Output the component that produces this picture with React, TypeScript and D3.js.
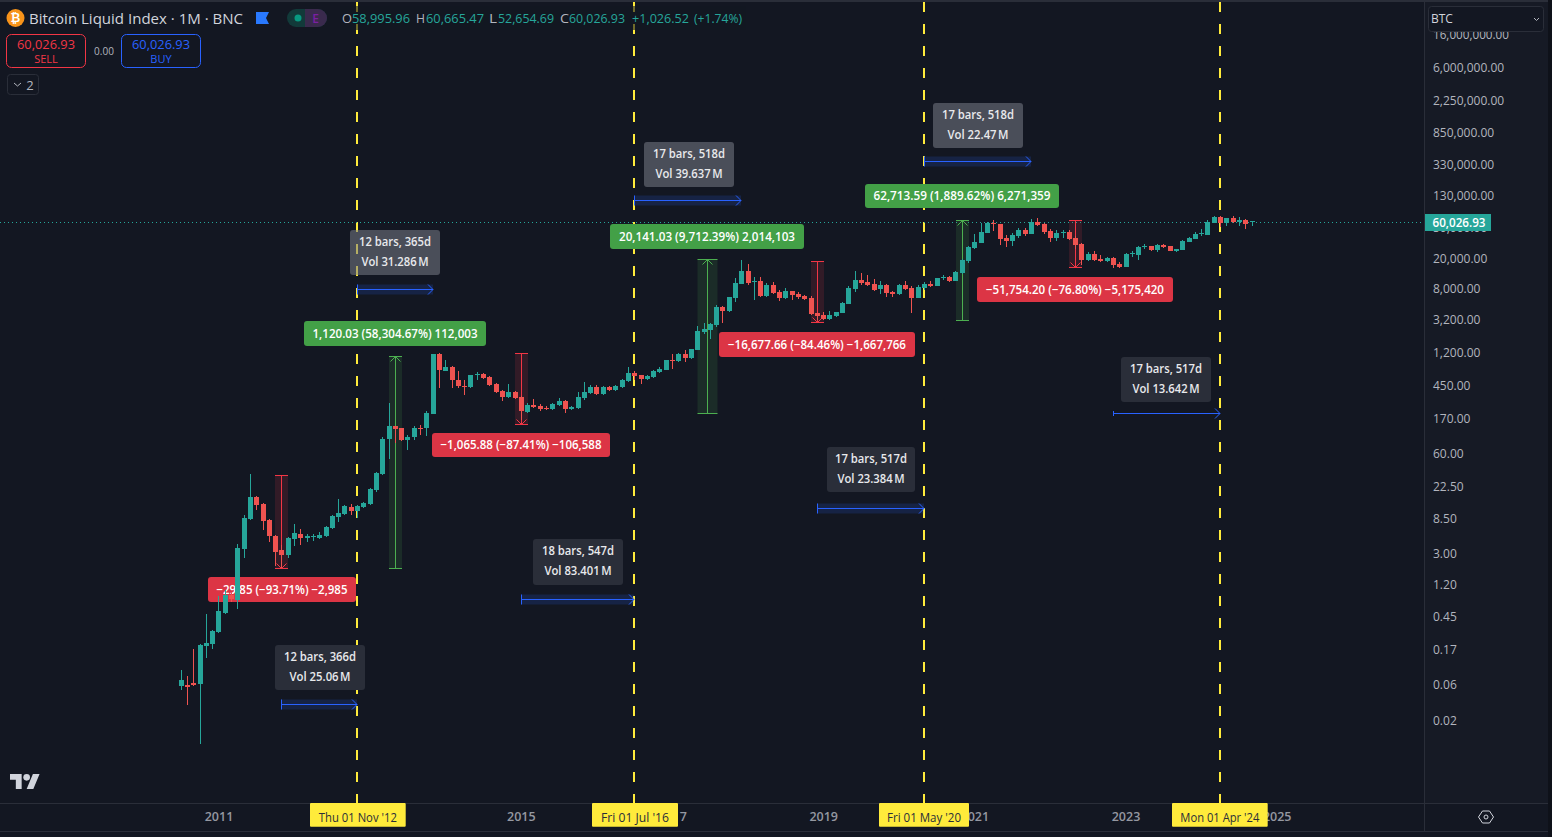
import React from 'react';
import * as d3 from 'd3';

// Monthly candles, Jul 2010 .. Sep 2024
const startYear = 2010;
const startMonth = 6;
const opens = [.055,.0567,.0602,.0584,.182,.193,.276,.488,.838,.721,3.31,8.11,15.7,12.7,7.88,4.88,3.21,2.76,4.46,5.18,4.68,4.76,4.6,4.88,6.21,8.63,9.42,11.6,10.3,11.6,12.7,19.3,31.1,88.9,131,125,86.3,94,125,125,187,1130,679,766,518,433,420,602,621,567,460,373,311,362,311,199,245,238,224,218,245,276,218,224,302,351,420,341,420,384,420,503,639,602,534,567,659,698,957,916,1130,1000,1270,2180,2310,2680,4600,4080,6020,9160,13500,9720,10000,6390,8890,7210,6020,7430,6790,6390,6020,3840,3620,3210,3510,3840,5030,7880,10300,9720,9160,7880,8890,7210,6790,8890,8110,6020,8110,9160,8630,10900,11300,10000,12700,18200,26800,31100,42000,56700,55000,36200,33100,38400,46000,40800,58400,55000,44600,36200,42000,43300,36200,30200,18700,22400,19300,18200,19900,16600,15200,22400,21800,27600,28500,25300,29300,28500,24500,25300,32100,35100,40800,39600,56700,67900,56700,65900,58400,62100,58995.96];
const highs = [.0889,.0743,.166,.193,.474,.293,.811,.97,.916,3.84,9.16,31.1,16.1,13.1,8.11,5.03,3.73,4.74,6.98,6.02,5.18,5.18,5.5,6.59,9.16,14.7,12.3,12.7,12.3,13.5,20.5,33.1,94.2,260,131,125,100,131,135,205,1130,1160,942,788,679,518,602,659,639,584,474,384,460,373,321,260,293,253,238,260,302,285,238,362,488,446,446,433,433,446,534,766,679,602,602,698,766,942,1130,1160,1270,1310,2600,2850,2850,4880,4740,6210,10900,18700,16600,11300,11300,9420,9720,7660,8110,7500,7210,6590,6390,3840,3960,4080,3960,5340,8630,13500,12700,12000,10600,10000,9160,7430,9160,10000,8630,8890,9720,10000,10900,12000,11600,13500,19300,28500,40800,56700,58400,62100,55000,39600,42000,48800,48800,63900,65900,56700,47400,46000,46000,46000,38400,31100,23800,24500,21800,20500,20500,17600,23100,24500,28500,30200,28500,30200,30200,28500,26000,34100,37300,43300,47400,62100,69800,69800,65900,69800,67900,63900,60665.47];
const lows = [.0488,.0311,.055,.0097,.127,.166,.27,.47,.679,.55,2.53,8,10.6,5.84,4.08,1.99,1.87,2.53,3.62,3.73,4.08,4.2,4.46,4.74,6.02,7.43,9.16,9.16,8.38,11.3,12.3,18.2,30.2,48.8,78.8,84,63.9,86,100,98,187,408,679,408,408,331,414,518,534,433,351,276,302,298,157,193,224,205,215,211,241,193,215,221,285,341,336,336,373,379,414,495,518,460,526,558,639,698,721,889,889,985,1270,2050,1760,2530,2850,3960,5340,9160,8890,5670,6290,6210,6790,5500,5840,5670,5840,5760,3620,3110,3150,3150,3450,3840,5030,7210,8890,8630,7430,6790,6210,6210,6590,7760,3840,6020,7660,8500,8630,10300,9720,10000,12500,17100,26000,31100,42000,44600,29300,27600,28500,36200,38400,40800,51800,40800,32100,33100,36200,34100,26000,16100,18200,18400,17600,17600,14700,15000,15200,20500,18700,26000,25000,23800,27200,24500,23800,25300,32100,35100,38400,39600,56700,50300,51800,56700,51800,47400,52654.69];
const closes = [.0659,.0534,.0567,.187,.199,.285,.518,.838,.743,3.41,8.38,15.7,12.3,7.66,4.88,3.02,2.76,4.6,5.34,4.6,4.84,4.95,5.03,6.39,8.89,9.72,12,10.3,12,13.1,19.9,32.1,88.9,131,120,86.3,96,125,120,193,1130,698,766,518,433,420,602,621,550,446,362,311,362,302,205,245,231,218,218,253,276,218,231,311,362,420,341,420,384,433,518,639,584,534,584,679,721,942,929,1130,1000,1310,2240,2380,2760,4600,4080,6210,9420,13500,9420,10000,6390,8890,6980,6020,7430,6590,6210,5840,3730,3510,3210,3620,3960,5180,8110,10300,9420,8890,7660,8890,6980,6790,8890,7880,6020,8380,9160,8630,10900,11300,10000,13100,18700,27600,32100,43300,56700,55000,35100,33100,39600,46000,40800,58400,53400,43300,36200,42000,43300,35100,29300,18700,22400,18700,18200,19900,16100,15200,22400,23100,27600,28500,25300,29300,27600,24500,26000,33100,36200,40800,42000,58400,67900,56700,65900,58400,62100,55000,60026.93];

const axisYears = [2011, 2015, 2017, 2019, 2021, 2023, 2025];
const priceTicks = [16000000, 6000000, 2250000, 850000, 330000, 130000, 50000, 20000, 8000, 3200, 1200, 450, 170, 60, 22.5, 8.5, 3, 1.2, 0.45, 0.17, 0.06, 0.02];

const markerMonths: [number, number, string][] = [
  [2012, 10, "Thu 01 Nov '12"],
  [2016, 6, "Fri 01 Jul '16"],
  [2020, 4, "Fri 01 May '20"],
  [2024, 3, "Mon 01 Apr '24"],
];
const markerBoxes = [[310, 95.7, 78], [592, 86, 68], [879, 90, 74], [1172, 95.7, 79]];

// price-range tools
const rangeBars = [16, 34, 54, 83.5, 101, 124, 142];
const rangeTops = [30.2, 1055, 1160, 19300, 18450, 63000, 63000];
const rangeBottoms = [1.91, 1.87, 140, 196, 2930, 3160, 15100];
const rangeUp = [false, true, false, true, false, true, false];
const rangeLabels = [
  '−29.85 (−93.71%) −2,985',
  '1,120.03 (58,304.67%) 112,003',
  '−1,065.88 (−87.41%) −106,588',
  '20,141.03 (9,712.39%) 2,014,103',
  '−16,677.66 (−84.46%) −1,667,766',
  '62,713.59 (1,889.62%) 6,271,359',
  '−51,754.20 (−76.80%) −5,175,420',
];
// date-range tools
const spanStarts = [16, 28, 54, 72, 101, 118, 148];
const spanEnds = [28, 40, 72, 89, 118, 135, 165];
const spanPrices = [0.0321, 7880, 0.743, 113000, 11.3, 362000, 193];
const spanLine1 = ['12 bars, 366d', '12 bars, 365d', '18 bars, 547d', '17 bars, 518d', '17 bars, 517d', '17 bars, 518d', '17 bars, 517d'];
const spanLine2 = ['Vol 25.06\u202fM', 'Vol 31.286\u202fM', 'Vol 83.401\u202fM', 'Vol 39.637\u202fM', 'Vol 23.384\u202fM', 'Vol 22.47\u202fM', 'Vol 13.642\u202fM'];

// layout of labels
const rangeLabelBox = [[208, 577, 148, 25, 131], [304, 321, 182, 25, 165], [432, 433, 178, 24, 161], [610, 224, 194, 25, 176], [719, 332, 196, 25, 178], [865, 184, 194, 24, 177], [977, 277, 196, 25, 178]];
const spanLabelBox = [[275, 645, 90, 45, 61], [350, 230, 90, 45, 67], [533, 539, 90, 46, 67], [644, 142, 90, 45, 67], [827, 447, 88, 45, 67], [933, 103, 90, 45, 61], [1121, 357, 90, 45, 67]];
const spanLight = [false, true, false, true, false, true, false];
const spanStrip = [0.16, 0.16, 0.16, 0.16, 0.16, 0.16, 0];

const W = 1552, H = 837;
const BG = '#131722';
const PANE = '#161a25';
const UP = '#26a69a', DOWN = '#ef5350';
const RED = '#f23645', GREEN = '#4caf50', BLUE = '#2962ff', YEL = '#ffeb3b';
const FONT = "'Open Sans', Roboto, sans-serif";

const x = d3.scaleLinear().domain([0, 170]).range([181.2, 1252]);
const y = d3.scaleLog().domain([20000, 0.02]).range([258, 720]);
const monthIndex = (yr: number, m: number) => (yr - startYear) * 12 + m - startMonth;
const fx = (v: number) => Math.floor(x(v));
const px = (v: number) => fx(v) + 0.5;
const fmt = d3.format(',.2f');

const T = ({ w, ...p }: any) => (
  <text fontFamily={FONT} {...(w ? { textLength: w, lengthAdjust: 'spacingAndGlyphs' } : {})} {...p} />
);

export default function App() {
  const lastY = Math.round(y(closes[closes.length - 1])) + 1.5;
  const chevron = (cx: number, cy: number, dir: number, s = 4) => `M${cx - s},${cy + dir * s}L${cx},${cy}L${cx + s},${cy + dir * s}`;
  return (
    <svg width={W} height={H} viewBox={`0 0 ${W} ${H}`} style={{ position: 'absolute', left: 0, top: 0, display: 'block' }}>
      <rect width={W} height={H} fill={BG} />
      <rect width={W} height={2} fill="#2a2e39" />
      <rect x={1424} y={2} width={124} height={801} fill={PANE} />
      <rect x={1548} y={0} width={4} height={H} fill="#0e1119" />

      {/* marker lines */}
      {markerMonths.map(([yr, m]) => (
        <line key={`${yr}`} x1={fx(monthIndex(yr, m))} x2={fx(monthIndex(yr, m))} y1={2} y2={803} stroke={YEL} strokeWidth={2} strokeDasharray="10 12" />
      ))}

      {/* price line */}
      <line x1={0} x2={1424} y1={lastY} y2={lastY} stroke={UP} strokeWidth={1} strokeDasharray="1 3" />

      {/* date spans */}
      {spanStarts.map((s, i) => {
        const x0 = fx(s), x1 = fx(spanEnds[i]);
        const yy = Math.round(y(spanPrices[i])) + 0.5;
        const [bx, by, bw, bh, tw] = spanLabelBox[i];
        const tick = spanStrip[i] ? 5 : 2.5;
        return (
          <g key={i}>
            <rect x={x0} y={yy - 5} width={x1 - x0} height={10} fill={BLUE} fillOpacity={spanStrip[i]} />
            <line x1={x0} x2={x1} y1={yy} y2={yy} stroke={BLUE} strokeWidth={1} />
            <line x1={x0 + 0.5} x2={x0 + 0.5} y1={yy - tick} y2={yy + tick} stroke={BLUE} />
            <path d={`M${x1 - 5},${yy - 5}L${x1},${yy}L${x1 - 5},${yy + 5}`} fill="none" stroke={BLUE} />
            <rect x={bx} y={by} width={bw} height={bh} rx={3} fill={spanLight[i] ? '#787b86' : '#2a2e39'} fillOpacity={spanLight[i] ? 0.55 : 1} />
            <T x={bx + bw / 2} y={by + 16} textAnchor="middle" fontSize={12} fontWeight={600} fill="#e8e9ec" w={72}>{spanLine1[i]}</T>
            <T x={bx + bw / 2} y={by + 36} textAnchor="middle" fontSize={12} fontWeight={600} fill="#e8e9ec" w={tw}>{spanLine2[i]}</T>
          </g>
        );
      })}

      {/* price ranges */}
      {rangeBars.map((b, i) => {
        const c = rangeUp[i] ? GREEN : RED;
        const cx = px(b);
        const half = b === 83.5 ? 10 : 6.5;
        const top = Math.round(y(rangeTops[i])) + 0.5, bot = Math.round(y(rangeBottoms[i])) + 0.5;
        const [bx, by, bw, bh, tw] = rangeLabelBox[i];
        return (
          <g key={i}>
            <rect x={cx - half} y={top} width={half * 2} height={bot - top} fill={c} fillOpacity={0.14} />
            <line x1={cx} x2={cx} y1={top} y2={bot} stroke={c} />
            <line x1={cx - half} x2={cx + half} y1={top} y2={top} stroke={c} />
            <line x1={cx - half} x2={cx + half} y1={bot} y2={bot} stroke={c} />
            <path d={rangeUp[i] ? chevron(cx, top, 1, 5) : chevron(cx, bot, -1, 5)} fill="none" stroke={c} />
            <rect x={bx} y={by} width={bw} height={bh} rx={3} fill={rangeUp[i] ? '#43a047' : '#dc3545'} />
            <T x={bx + bw / 2} y={by + bh / 2 + 4} textAnchor="middle" fontSize={12} fontWeight={600} fill="#fff" w={tw}>{rangeLabels[i]}</T>
          </g>
        );
      })}

      {/* candles */}
      <g shapeRendering="crispEdges">
        {opens.map((o, i) => {
          const c = closes[i];
          const col = c >= o ? UP : DOWN;
          const cx = fx(i);
          const top = Math.round(y(Math.max(o, c))), bot = Math.round(y(Math.min(o, c)));
          return (
            <g key={i}>
              <rect x={cx} y={Math.round(y(highs[i]))} width={1} height={Math.round(y(lows[i])) - Math.round(y(highs[i]))} fill={col} />
              <rect x={cx - 2} y={top} width={5} height={Math.max(1, bot - top)} fill={col} />
            </g>
          );
        })}
      </g>

      {/* legend dim */}
      <rect x={340} y={6} width={406} height={24} fill={BG} fillOpacity={0.6} />

      {/* top left header */}
      <circle cx={15.5} cy={18} r={9} fill="#f7931a" />
      <T x={15.5} y={22} textAnchor="middle" fontSize={12} fontWeight={700} fill="#fff">₿</T>
      <T x={29} y={23.5} fontSize={15} fill="#d1d4dc" w={214}>Bitcoin Liquid Index · 1M · BNC</T>
      <path d="M256,12H269L266,18L269,24H256Z" fill="#2979ff" />
      <rect x={287} y={9} width={40} height={18} rx={9} fill="#123a3a" />
      <path d="M305,9H318a9,9 0 0 1 0,18H305Z" fill="#3a2a4d" />
      <circle cx={298} cy={18} r={3.5} fill="#089981" />
      <T x={315.5} y={22.5} textAnchor="middle" fontSize={12} fontWeight={600} fill="#7b1fa2">E</T>
      {[
        ['O', 342, 10], ['58,995.96', 352, 58], ['H', 416, 9], ['60,665.47', 426, 58], ['L', 489, 8], ['52,654.69', 498, 56],
        ['C', 560, 9], ['60,026.93', 569, 56], ['+1,026.52', 632, 57], ['(+1.74%)', 694, 48],
      ].map(([t, xx, w], i) => (
        <T key={i} x={xx} y={23} fontSize={13} fill={['O', 'H', 'L', 'C'].includes(t as string) ? '#b2b5be' : UP} w={w}>{t}</T>
      ))}

      <rect x={6.5} y={34.5} width={79} height={33} rx={5} fill={BG} stroke={RED} />
      <T x={46} y={49} textAnchor="middle" fontSize={12.5} fontWeight={500} fill={RED} w={58}>60,026.93</T>
      <T x={46} y={63} textAnchor="middle" fontSize={11} fill={RED}>SELL</T>
      <T x={104} y={55} textAnchor="middle" fontSize={10} fill="#b2b5be">0.00</T>
      <rect x={121.5} y={34.5} width={79} height={33} rx={5} fill={BG} stroke={BLUE} />
      <T x={161} y={49} textAnchor="middle" fontSize={12.5} fontWeight={500} fill={BLUE} w={58}>60,026.93</T>
      <T x={161} y={63} textAnchor="middle" fontSize={11} fill={BLUE}>BUY</T>
      <rect x={7.5} y={74.5} width={31} height={20} rx={3} fill="none" stroke="#2a2e39" />
      <path d="M14,83L17.5,86L21,83" fill="none" stroke="#b2b5be" />
      <T x={30} y={89.5} textAnchor="middle" fontSize={13} fill="#b2b5be">2</T>

      {/* right axis */}
      <line x1={1424.5} x2={1424.5} y1={2} y2={831} stroke="#2a2e39" />
      <g clipPath="url(#axisclip)">
        {priceTicks.map(v => (
          <T key={v} x={1433} y={y(v) + 4.5 + (v < 1000 && v > 0.02 ? 1 : 0)} fontSize={12} fill="#b2b5be" w={v >= 1e7 ? 76 : undefined}>{fmt(v)}</T>
        ))}
      </g>
      <clipPath id="axisclip"><rect x={1425} y={32} width={124} height={771} /></clipPath>
      <rect x={1428.5} y={6.5} width={115} height={25} rx={3} fill={BG} stroke="#2a2e39" />
      <T x={1431} y={23} fontSize={12} fill="#d1d4dc">BTC</T>
      <path d="M1534,18L1536.5,20.5L1539,18" fill="none" stroke="#b2b5be" />
      <rect x={1425} y={214} width={66} height={17} fill={UP} />
      <T x={1459} y={226.5} textAnchor="middle" fontSize={12} fontWeight={600} fill="#fff" w={53}>{fmt(closes[closes.length - 1])}</T>

      {/* logo */}
      <g transform="translate(10,770.7) scale(0.833)" fill="#d1d4dc">
        <path d="M14 22H7V11H0V4h14v18zM28 22h-8l7.5-18h8L28 22z" />
        <circle cx={20} cy={8} r={4} />
      </g>

      {/* time axis */}
      <line x1={0} x2={1548} y1={803.5} y2={803.5} stroke="#2a2e39" />
      <line x1={0} x2={1548} y1={831.5} y2={831.5} stroke="#2a2e39" />
      {axisYears.map(v => (
        <T key={v} x={x(monthIndex(v, 0))} y={821} textAnchor="middle" fontSize={12.5} fontWeight={600} fill="#9598a1">{v}</T>
      ))}
      {markerMonths.map(([yr, , label], i) => {
        const [bx, bw, tw] = markerBoxes[i];
        return (
          <g key={label}>
            <rect x={bx} y={803} width={bw} height={23.7} fill={YEL} rx={1} />
            <T x={bx + bw / 2} y={822} textAnchor="middle" fontSize={12} fill="#2a2e39" w={tw}>{label}</T>
          </g>
        );
      })}
      <g transform="translate(1486,817)" fill="none" stroke="#d1d4dc">
        <path d="M-7.5,0L-3.5,-6H3.5L7.5,0L3.5,6H-3.5Z" />
        <circle r={2} />
      </g>
    </svg>
  );
}
